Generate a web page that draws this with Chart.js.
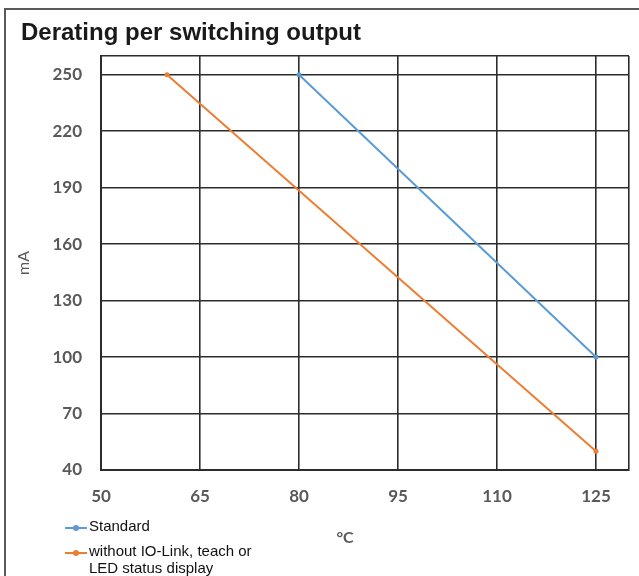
<!DOCTYPE html>
<html>
<head>
<meta charset="utf-8">
<title>Derating per switching output</title>
<script src="https://cdn.jsdelivr.net/npm/chart.js@4.4.1/dist/chart.umd.min.js"></script>
<style>
  html, body { margin: 0; padding: 0; background: #fff; }
  #wrap { position: relative; width: 639px; height: 576px; overflow: hidden; }
  #frame {
    position: absolute; left: 4px; top: 8px; right: -10px; bottom: -10px;
    border-top: 2px solid #5a5a5a; border-left: 2px solid #5a5a5a;
  }
  #title {
    position: absolute; left: 21px; top: 20px; white-space: nowrap;
    font: bold 24px "Liberation Sans", Arial, sans-serif; line-height: 24px; color: #1a1a1a;
  }
  #chartBox { position: absolute; left: 0; top: 0; width: 639px; height: 576px; }
  #xTitle {
    position: absolute; left: 315px; top: 529px; width: 60px; text-align: center;
    font: bold 16px Lato, sans-serif; line-height: 16px; color: #595959;
  }
  #legend {
    position: absolute; left: 65px; top: 517px;
    font: 15px "Liberation Sans", Arial, sans-serif; line-height: 17px; color: #111;
  }
  .item { display: flex; align-items: flex-start; margin-bottom: 8px; }
  .mark { position: relative; width: 22px; height: 2px; margin-top: 10px; margin-right: 2px; flex: none; }
  .mark span { position: absolute; left: 8px; top: -2px; width: 6px; height: 6px; border-radius: 50%; }
  .text { max-width: 175px; }
</style>
</head>
<body>
<div id="wrap">
  <div id="frame"></div>
  <div id="chartBox"><canvas id="derating"></canvas></div>
  <div id="title">Derating per switching output</div>
  <div id="xTitle">°C</div>
  <div id="legend"></div>
</div>
<script>
// axis ticks
const tempTicks = [50, 65, 80, 95, 110, 125];
const tempMax = 130;
const currentTicks = [40, 70, 100, 130, 160, 190, 220, 250];
const currentMax = 260;

// series
const seriesNames = ['Standard', 'without IO-Link, teach or LED status display'];
const seriesColors = ['#5b9bd5', '#ed7d31'];
const standardTemp = [80, 125];
const standardCurrent = [250, 100];
const reducedTemp = [60, 125];
const reducedCurrent = [250, 50];

function toPoints(xs, ys) {
    return xs.map((x, i) => ({ x: x, y: ys[i] }));
}

// tick list plus the outer edge (edge gets a gridline but no label)
function setTicks(list, edge) {
    return function (scale) {
        scale.ticks = list.concat([edge]).map(v => ({ value: v }));
    };
}

const gridColor = '#2c2c2c';
const tickFont = { family: 'Lato', size: 17, weight: 'bold' };

let chart = new Chart(document.getElementById('derating'), {
    type: 'line',
    data: {
        datasets: [
            { label: seriesNames[0], data: toPoints(standardTemp, standardCurrent) },
            { label: seriesNames[1], data: toPoints(reducedTemp, reducedCurrent) }
        ].map((ds, i) => Object.assign(ds, {
            borderColor: seriesColors[i],
            backgroundColor: seriesColors[i],
            borderWidth: 2,
            pointRadius: 2.5,
            pointBorderWidth: 0,
            tension: 0
        }))
    },
    options: {
        responsive: true,
        maintainAspectRatio: false,
        animation: false,
        layout: { padding: { top: 56, right: 10, bottom: 0, left: 0 } },
        plugins: { legend: { display: false }, title: { display: false }, tooltip: { enabled: false } },
        scales: {
            x: {
                type: 'linear',
                min: tempTicks[0],
                max: tempMax,
                afterBuildTicks: setTicks(tempTicks, tempMax),
                afterFit: scale => { scale.height = 106; scale.paddingRight = 0; },
                grid: { color: gridColor, lineWidth: 1.6, drawTicks: false },
                border: { color: gridColor, width: 2 },
                ticks: {
                    autoSkip: false, maxRotation: 0, padding: 16,
                    color: '#595959', font: tickFont,
                    callback: v => (tempTicks.includes(v) ? String(v) : '')
                }
            },
            y: {
                min: currentTicks[0],
                max: currentMax,
                afterBuildTicks: setTicks(currentTicks, currentMax),
                afterFit: scale => { scale.width = 101; },
                grid: { color: gridColor, lineWidth: 1.6, drawTicks: false },
                border: { color: gridColor, width: 2 },
                ticks: {
                    autoSkip: false, padding: 19,
                    color: '#595959', font: tickFont,
                    callback: v => (currentTicks.includes(v) ? String(v) : '')
                },
                title: {
                    display: true, text: 'mA', color: '#595959', padding: 14,
                    font: { family: 'Lato', size: 16, weight: 'normal' }
                }
            }
        }
    }
});

// legend built from the chart's datasets
let legend = document.getElementById('legend');
chart.data.datasets.forEach(ds => {
    let item = document.createElement('div');
    item.className = 'item';
    item.innerHTML = '<div class="mark" style="background:' + ds.borderColor + '"><span style="background:' +
        ds.borderColor + '"></span></div><div class="text">' + ds.label + '</div>';
    legend.appendChild(item);
});
</script>
</body>
</html>
